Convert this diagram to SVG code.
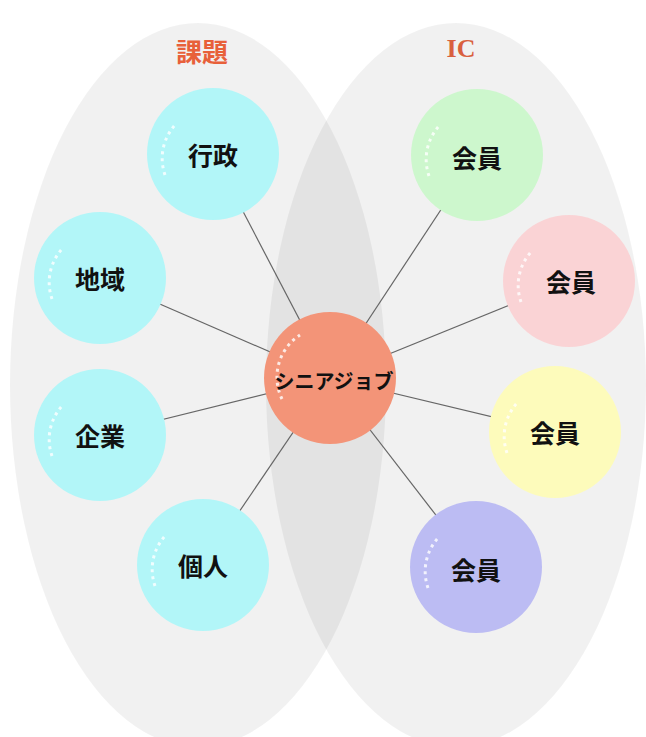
<svg xmlns="http://www.w3.org/2000/svg" width="646" height="737" viewBox="0 0 646 737">
<style>
.bg{fill:#000;fill-opacity:0.055}
.node{stroke:none}
.lbl{font-family:"Noto Sans CJK JP","Noto Sans CJK SC",sans-serif;font-weight:bold;font-size:25px;fill:#111;text-anchor:middle;dominant-baseline:central}
.ctr{font-size:20px}
.hl{fill:none;stroke:#fff;stroke-width:3;stroke-dasharray:3 4;stroke-opacity:0.8}
.conn{stroke:#666;stroke-width:1.2}
</style>
<rect width="646" height="737" fill="#fff"/>
<g id="areas">
<ellipse class="bg" cx="198" cy="385" rx="188" ry="362"/>
<ellipse class="bg" cx="456" cy="385" rx="190" ry="362"/>
<text x="202" y="50" font-family="Noto Sans CJK JP,sans-serif" font-weight="bold" font-size="26" fill="#e8603a" text-anchor="middle" dominant-baseline="central">課題</text>
<text x="461" y="48" font-family="Liberation Serif,serif" font-weight="bold" font-size="26" fill="#d9603f" text-anchor="middle" dominant-baseline="central">IC</text>
</g>
<g id="connectors">
<line class="conn" x1="330" y1="378" x2="213" y2="154"/>
<line class="conn" x1="330" y1="378" x2="100" y2="278"/>
<line class="conn" x1="330" y1="378" x2="100" y2="435"/>
<line class="conn" x1="330" y1="378" x2="203" y2="565"/>
<line class="conn" x1="330" y1="378" x2="477" y2="155"/>
<line class="conn" x1="330" y1="378" x2="569" y2="281"/>
<line class="conn" x1="330" y1="378" x2="555" y2="432"/>
<line class="conn" x1="330" y1="378" x2="476" y2="567"/>
</g>
<g id="n-gyosei"><circle class="node" cx="213" cy="154" r="66" fill="#b2f6f8"/><path class="hl" d="M165,175 A50,50 0 0 1 175,125"/><text class="lbl" x="213" y="154">行政</text></g>
<g id="n-chiiki"><circle class="node" cx="100" cy="278" r="66" fill="#b2f6f8"/><path class="hl" d="M52,299 A50,50 0 0 1 62,249"/><text class="lbl" x="100" y="278">地域</text></g>
<g id="n-kigyo"><circle class="node" cx="100" cy="435" r="66" fill="#b2f6f8"/><path class="hl" d="M52,456 A50,50 0 0 1 62,406"/><text class="lbl" x="100" y="435">企業</text></g>
<g id="n-kojin"><circle class="node" cx="203" cy="565" r="66" fill="#b2f6f8"/><path class="hl" d="M155,586 A50,50 0 0 1 165,536"/><text class="lbl" x="203" y="565">個人</text></g>
<g id="n-center"><circle class="node" cx="330" cy="378" r="66" fill="#f39478"/><path class="hl" d="M282,399 A50,50 0 0 1 300,335"/><text class="lbl ctr" x="334" y="380">シニアジョブ</text></g>
<g id="n-kaiin1"><circle class="node" cx="477" cy="155" r="66" fill="#cdf7cd"/><path class="hl" d="M429,176 A50,50 0 0 1 439,126"/><text class="lbl" x="477" y="157">会員</text></g>
<g id="n-kaiin2"><circle class="node" cx="569" cy="281" r="66" fill="#fad3d5"/><path class="hl" d="M521,302 A50,50 0 0 1 531,252"/><text class="lbl" x="571" y="281">会員</text></g>
<g id="n-kaiin3"><circle class="node" cx="555" cy="432" r="66" fill="#fdfbbb"/><path class="hl" d="M507,453 A50,50 0 0 1 517,403"/><text class="lbl" x="555" y="432">会員</text></g>
<g id="n-kaiin4"><circle class="node" cx="476" cy="567" r="66" fill="#bcbcf3"/><path class="hl" d="M428,588 A50,50 0 0 1 438,538"/><text class="lbl" x="476" y="569">会員</text></g>
</svg>
